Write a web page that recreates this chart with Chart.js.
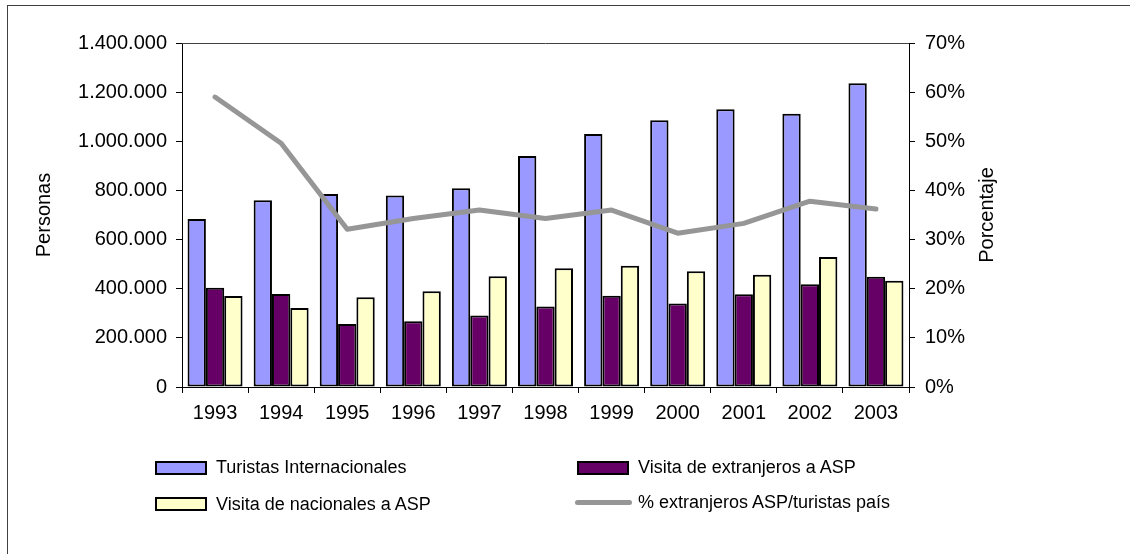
<!DOCTYPE html>
<html lang="es">
<head>
<meta charset="utf-8">
<title>Turistas y visitas a ASP 1993-2003</title>
<script src="https://cdn.jsdelivr.net/npm/chart.js@4/dist/chart.umd.min.js"></script>
<style>
  html, body { margin: 0; padding: 0; background: #fff; overflow: hidden; }
  #wrap { position: relative; width: 1130px; height: 554px; overflow: hidden; }
  #frame { position: absolute; left: 7px; top: 5px; width: 1200px; height: 700px;
           border-left: 1px solid #404040; border-top: 1px solid #404040; }
  #chart { position: absolute; left: 0; top: 0; }
  .lg { position: absolute; font-family: "Liberation Sans", Arial, sans-serif; font-size: 18px;
        color: #000; white-space: nowrap; line-height: 20px; }
  .sw { position: absolute; box-sizing: border-box; border: 2px solid #000; }
  .ln { position: absolute; height: 5px; border-radius: 3px; }
</style>
</head>
<body>
<div id="wrap">
  <div id="frame"></div>
  <canvas id="chart" width="1130" height="554"></canvas>
  <div id="legend"></div>
</div>
<script>
// Years on the category axis
const years = ['1993','1994','1995','1996','1997','1998','1999','2000','2001','2002','2003'];

// Persons per year
const turistasInternacionales = [684000, 760000, 785000, 779000, 809000, 940000, 1030000, 1086000, 1130000, 1112000, 1236000];
const visitaExtranjeros      = [404000, 378000, 256000, 268000, 291000, 328000, 371000, 340000, 377000, 418000, 449000];
const visitaNacionales       = [370000, 322000, 365000, 390000, 451000, 483000, 493000, 471000, 457000, 529000, 432000];

// Share of foreign visitors to ASP over international tourists (%)
const pctExtranjeros = [59.0, 49.6, 32.1, 34.3, 36.0, 34.3, 36.0, 31.3, 33.3, 37.8, 36.2];

// Axis ranges
const personasMax = 1400000, personasStep = 200000;
const pctMax = 70, pctStep = 10;

const seriesLabels = ['Turistas Internacionales', 'Visita de extranjeros a ASP',
                      'Visita de nacionales a ASP', '% extranjeros ASP/turistas país'];
const axisTitles = { left: 'Personas', right: 'Porcentaje' };

const FONT = "'Liberation Sans', Arial, sans-serif";
const TICK_SIZE = 20;

function fmtMiles(v) {
  return String(Math.round(v)).replace(/\B(?=(\d{3})+(?!\d))/g, '.');
}

// Top edge of the plotting area and both vertical axis titles (reading upwards)
const plotFrame = {
  id: 'plotFrame',
  afterDatasetsDraw(chart) {
    const { ctx, chartArea: a } = chart;
    ctx.save();
    ctx.strokeStyle = '#404040';
    ctx.lineWidth = 1;
    ctx.beginPath();
    ctx.moveTo(a.left, Math.round(a.top) + 0.5);
    ctx.lineTo(a.right, Math.round(a.top) + 0.5);
    ctx.stroke();
    ctx.restore();
  },
  afterDraw(chart) {
    const { ctx, chartArea: a } = chart;
    const midY = (a.top + a.bottom) / 2;
    ctx.save();
    ctx.font = TICK_SIZE + 'px ' + FONT;
    ctx.fillStyle = '#000';
    ctx.textAlign = 'center';
    ctx.textBaseline = 'middle';
    [[44, axisTitles.left], [a.right + 78, axisTitles.right]].forEach(([x, txt]) => {
      ctx.save();
      ctx.translate(x, midY);
      ctx.rotate(-Math.PI / 2);
      ctx.fillText(txt, 0, 0);
      ctx.restore();
    });
    ctx.restore();
  }
};

const barCommon = {
  type: 'bar',
  yAxisID: 'y',
  borderColor: '#000',
  borderWidth: 2,
  borderSkipped: false,
  barPercentage: 1.0,
  categoryPercentage: 0.832,
  order: 1
};

const chart = new Chart(document.getElementById('chart'), {
  data: {
    labels: years,
    datasets: [
      Object.assign({}, barCommon, { label: seriesLabels[0], data: turistasInternacionales, backgroundColor: '#9999FF' }),
      Object.assign({}, barCommon, { label: seriesLabels[1], data: visitaExtranjeros, backgroundColor: '#660066' }),
      Object.assign({}, barCommon, { label: seriesLabels[2], data: visitaNacionales, backgroundColor: '#FFFFCC' }),
      {
        type: 'line',
        label: seriesLabels[3],
        data: pctExtranjeros,
        yAxisID: 'y1',
        borderColor: '#969696',
        backgroundColor: '#969696',
        borderWidth: 5,
        borderCapStyle: 'round',
        borderJoinStyle: 'round',
        pointRadius: 0,
        tension: 0,
        order: 0
      }
    ]
  },
  options: {
    responsive: false,
    animation: false,
    events: [],
    layout: { padding: { top: 43, left: 0, right: 0, bottom: 0 } },
    plugins: { legend: { display: false }, tooltip: { enabled: false } },
    scales: {
      x: {
        type: 'category',
        offset: true,
        grid: { display: true, offset: true, drawOnChartArea: false, drawTicks: true,
                tickLength: 6, color: '#000', lineWidth: 1 },
        border: { display: true, color: '#000', width: 1 },
        ticks: { color: '#000', font: { family: FONT, size: TICK_SIZE }, padding: 8, maxRotation: 0 },
        afterFit(s) { s.height = 167; }
      },
      y: {
        position: 'left',
        min: 0, max: personasMax,
        grid: { display: true, drawOnChartArea: false, drawTicks: true, tickLength: 6, color: '#000' },
        border: { display: true, color: '#000', width: 1 },
        ticks: { stepSize: personasStep, color: '#000', font: { family: FONT, size: TICK_SIZE }, padding: 9,
                 callback: v => fmtMiles(v) },
        afterFit(s) { s.width = 182; }
      },
      y1: {
        position: 'right',
        min: 0, max: pctMax,
        grid: { display: true, drawOnChartArea: false, drawTicks: true, tickLength: 6, color: '#000' },
        border: { display: true, color: '#000', width: 1 },
        ticks: { stepSize: pctStep, color: '#000', font: { family: FONT, size: TICK_SIZE }, padding: 10,
                 callback: v => v + '%' },
        afterFit(s) { s.width = 221; }
      }
    }
  },
  plugins: [plotFrame]
});

// Two-column legend below the plot, built from the chart's datasets
(function buildLegend() {
  const host = document.getElementById('legend');
  const slots = [
    { i: 0, x: 155, y: 467 },
    { i: 1, x: 577, y: 467 },
    { i: 2, x: 155, y: 503.5 },
    { i: 3, x: 577, y: 502 }
  ];
  slots.forEach(s => {
    const ds = chart.data.datasets[s.i];
    if (ds.type === 'line') {
      const ln = document.createElement('div');
      ln.className = 'ln';
      ln.style.left = (s.x - 2) + 'px';
      ln.style.top = (s.y - 2.5) + 'px';
      ln.style.width = '57px';
      ln.style.background = ds.borderColor;
      host.appendChild(ln);
    } else {
      const sw = document.createElement('div');
      sw.className = 'sw';
      sw.style.left = s.x + 'px';
      sw.style.top = (s.y - 6.5) + 'px';
      sw.style.width = '52px';
      sw.style.height = '14px';
      sw.style.background = ds.backgroundColor;
      host.appendChild(sw);
    }
    const t = document.createElement('div');
    t.className = 'lg';
    t.textContent = ds.label;
    t.style.left = (s.x + 61) + 'px';
    t.style.top = (s.y - 10) + 'px';
    host.appendChild(t);
  });
})();
</script>
</body>
</html>
